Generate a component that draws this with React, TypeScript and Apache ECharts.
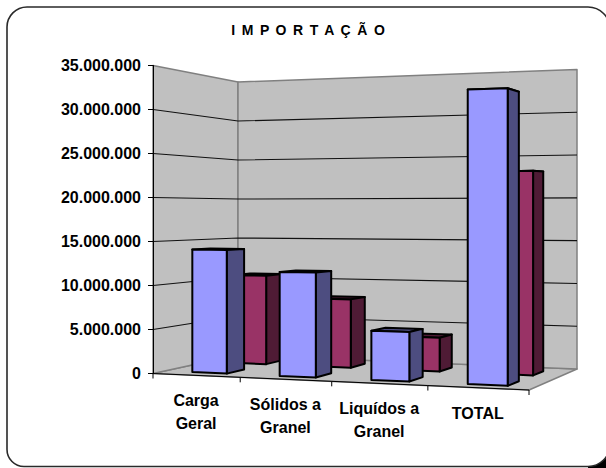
import React, { useEffect, useRef } from "react";
import * as echarts from "echarts";

const categories = ["Carga\nGeral", "Sólidos a\nGranel", "Liquídos a\nGranel", "TOTAL"];
const series1Values = [14100000, 11700000, 5400000, 31600000];
const series2Values = [10700000, 8100000, 3900000, 23100000];
const tickValues = [0, 5000000, 10000000, 15000000, 20000000, 25000000, 30000000, 35000000];
const titleText = "I M P O R T A Ç Ã O";
const FONT = "'Liberation Sans', Arial, sans-serif";

// Projection of the 3-D box (pixel corners of floor and wall heights)
const A = [153, 373.5], B = [529, 390], C = [238, 355], D = [577, 369];
const hA = 308, hB = 338, hC = 273, hD = 299.5;
const PG = -0.094;
const BAR_SHIFT = 0.006;
const warp = (u: number) => (u * (1 + PG)) / (1 + PG * u);
const project = (u: number, v: number) => {
  const s = warp(u);
  const mix = (i: number) =>
    (1 - s) * (1 - v) * A[i] + s * (1 - v) * B[i] + (1 - s) * v * C[i] + s * v * D[i];
  return [mix(0), mix(1)];
};
const heightAt = (u: number, v: number) => {
  const s = warp(u);
  return 1 / ((1 - s) * (1 - v) / hA + s * (1 - v) / hB + (1 - s) * v / hC + s * v / hD);
};
const lift = (u: number, v: number, w: number) => {
  const p = project(u, v);
  return [p[0], p[1] - w * heightAt(u, v)];
};
const fracOfY = (y: number) => (A[1] - y) / hA;
const uOfX = (x: number) => (x - A[0]) / (B[0] - A[0]);

const poly = (points: number[][], fill: string, stroke: string, lineWidth: number) => ({
  type: "polygon",
  shape: { points },
  style: { fill, stroke, lineWidth, lineJoin: "round" },
});
const line = (points: number[][], stroke: string, lineWidth: number) => ({
  type: "polyline",
  shape: { points },
  style: { fill: "none", stroke, lineWidth },
});

const barRenderer = (v0: number, v1: number, front: string, side: string) => (_: any, api: any) => {
  const c = api.coord([api.value(0), api.value(1)]);
  const half = (api.size([1, 0])[0] * 0.2) / (B[0] - A[0]);
  const u = uOfX(c[0]) + BAR_SHIFT;
  const u0 = u - half, u1 = u + half;
  const w = fracOfY(c[1]);
  const p = (a: number, b: number, t: number) => lift(a, b, t);
  return {
    type: "group",
    children: [
      poly([p(u0, v0, w), p(u1, v0, w), p(u1, v1, w), p(u0, v1, w)], side, "#000", 2),
      poly([p(u1, v0, 0), p(u1, v1, 0), p(u1, v1, w), p(u1, v0, w)], side, "#000", 2),
      poly([p(u0, v0, 0), p(u1, v0, 0), p(u1, v0, w), p(u0, v0, w)], front, "#000", 2),
    ],
  };
};

export default function App() {
  const ref = useRef<HTMLDivElement>(null);
  useEffect(() => {
    document.body.style.margin = "0";
    const chart = echarts.init(ref.current!, undefined, { renderer: "svg" });
    const maxV = tickValues[tickValues.length - 1];
    chart.setOption({
      animation: false,
      backgroundColor: "#fff",
      textStyle: { fontFamily: FONT },
      graphic: [
        { type: "rect", z: -10, shape: { x: 588, y: 452, width: 18, height: 16 }, style: { fill: "#000" } },
        {
          type: "rect",
          z: -9,
          shape: { x: 7, y: 7, width: 603, height: 459.5, r: [20, 22, 22, 17] },
          style: { fill: "#fff", stroke: "#2a2a2a", lineWidth: 1.6 },
        },
        {
          type: "text",
          id: "chart-title",
          x: 308,
          y: 30,
          style: {
            text: titleText,
            fill: "#000",
            font: `bold 14px ${FONT}`,
            textAlign: "center",
            textVerticalAlign: "middle",
          },
        },
      ],
      grid: { left: A[0], right: 606 - B[0], top: A[1] - hA, bottom: 468 - A[1], containLabel: false },
      xAxis: { type: "category", data: categories, show: false },
      yAxis: {
        type: "value",
        min: 0,
        max: maxV,
        interval: 5000000,
        z: 6,
        axisLine: { show: true, lineStyle: { color: "#000", width: 1 } },
        axisTick: { show: true, length: 5, lineStyle: { color: "#000", width: 1 } },
        splitLine: { show: false },
        axisLabel: {
          margin: 12,
          color: "#000",
          fontFamily: FONT,
          fontSize: 16,
          fontWeight: "bold",
          formatter: (v: number) => String(v).replace(/\B(?=(\d{3})+$)/g, "."),
        },
      },
      series: [
        {
          type: "custom",
          name: "Paredes",
          silent: true,
          z: 2,
          clip: false,
          data: [[0, maxV]],
          encode: { x: 0, y: 1 },
          renderItem: (_: any, api: any) => {
            const top = fracOfY(api.coord([0, api.value(1)])[1]);
            const grey = "#c0c0c0", edge = "#808080";
            return {
              type: "group",
              children: [
                poly([lift(0, 0, 0), lift(0, 1, 0), lift(1, 1, 0), lift(1, 0, 0)], grey, edge, 1.5),
                poly([lift(0, 0, 0), lift(0, 1, 0), lift(0, 1, top), lift(0, 0, top)], grey, edge, 1.5),
                poly([lift(0, 1, 0), lift(1, 1, 0), lift(1, 1, top), lift(0, 1, top)], grey, edge, 1.5),
              ],
            };
          },
        },
        {
          type: "custom",
          name: "Grade",
          silent: true,
          z: 3,
          clip: false,
          data: tickValues.slice(1, -1).map((t) => [0, t]),
          encode: { x: 0, y: 1 },
          renderItem: (_: any, api: any) => {
            const w = fracOfY(api.coord([0, api.value(1)])[1]);
            return line([lift(0, 0, w), lift(0, 1, w), lift(1, 1, w)], "#111", 1.1);
          },
        },
        {
          type: "custom",
          name: "Eixo",
          silent: true,
          z: 3,
          clip: false,
          data: categories.map((_, i) => [i, 0]),
          encode: { x: 0, y: 1 },
          renderItem: (_: any, api: any) => {
            const i = api.value(0);
            const c = api.coord([i, 0]);
            const half = api.size([1, 0])[0] / 2 / (B[0] - A[0]);
            const u = uOfX(c[0]);
            const tick = project(u + half, 0);
            const lab = project(u, 0);
            const children: any[] = [
              line([project(u - half, 0), tick], "#000", 1),
              line([tick, [tick[0], tick[1] + 5]], "#000", 1),
              {
                type: "text",
                x: lab[0],
                y: lab[1] + 14,
                style: {
                  text: categories[i],
                  fill: "#000",
                  font: `bold 16px ${FONT}`,
                  lineHeight: 23,
                  textAlign: "center",
                  textVerticalAlign: "top",
                },
              },
            ];
            if (i === 0) {
              const s = project(0, 0);
              children.push(line([s, [s[0], s[1] + 5]], "#000", 1));
            }
            return { type: "group", children };
          },
        },
        {
          type: "custom",
          name: "Série 2",
          z: 4,
          clip: false,
          data: series2Values.map((v, i) => [i, v]),
          encode: { x: 0, y: 1 },
          renderItem: barRenderer(0.64, 0.84, "#993366", "#4f1b35"),
        },
        {
          type: "custom",
          name: "Série 1",
          z: 5,
          clip: false,
          data: series1Values.map((v, i) => [i, v]),
          encode: { x: 0, y: 1 },
          renderItem: barRenderer(0.14, 0.36, "#9999ff", "#4d4d80"),
        },
      ],
    });
    ref.current!.querySelectorAll("text").forEach((t) => {
      if (t.textContent === titleText) (t as SVGTextElement).style.wordSpacing = "2.7px";
    });
    return () => chart.dispose();
  }, []);
  return <div ref={ref} style={{ position: "absolute", left: 0, top: 0, width: 606, height: 468, overflow: "hidden" }} />;
}
